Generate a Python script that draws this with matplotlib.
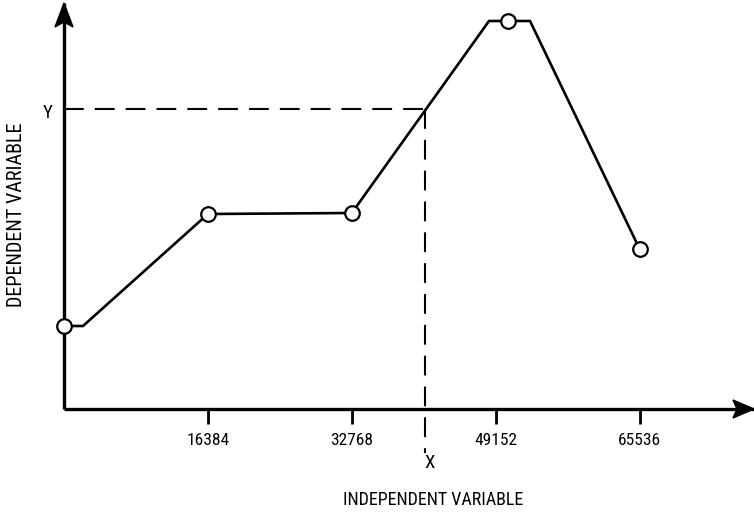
import matplotlib
matplotlib.use("Agg")
import matplotlib.pyplot as plt
from matplotlib.patches import Polygon
from matplotlib.transforms import IdentityTransform

# Piecewise curve vertices (independent, dependent)
curve_x = [0, 2163, 16384, 32768, 48390, 53060, 65536]
curve_y = [83, 83, 195, 196, 388, 388, 160]

# Sample points marked with open circles
point_x = [0, 16384, 32768, 50550, 65536]
point_y = [83, 195, 196, 388, 160]

# Axis ticks
tick_values = [16384, 32768, 49152, 65536]
tick_labels = ["16384", "32768", "49152", "65536"]

# Read-off example
x_read = 41100
y_read = 300

W, H = 754, 512
FONT = ["Roboto Condensed", "Archivo Narrow", "Liberation Sans", "DejaVu Sans"]
plt.rcParams["font.family"] = FONT

fig = plt.figure(figsize=(W / 100, H / 100), dpi=100)
ox, oy = 64, 409  # axis origin in image pixels (top-left origin)
ax = fig.add_axes([ox / W, (H - oy) / H, (W - ox) / W, (oy - 3) / H])
ax.set_xlim(0, (W - ox) * 16384 / 143.9)
ax.set_ylim(0, oy - 3)
for s in ax.spines.values():
    s.set_visible(False)

# axis lines
ax.plot([0, 1], [0, 0], transform=ax.transAxes, color="black", lw=2.4,
        solid_capstyle="butt", clip_on=False, zorder=3)
ax.plot([0, 0], [0, 1], transform=ax.transAxes, color="black", lw=2.4,
        solid_capstyle="butt", clip_on=False, zorder=3)

# arrow heads (display pixels, bottom-left origin)
yb = H - oy
xhead = Polygon([(W, yb), (W - 21, yb + 9), (W - 17, yb), (W - 21, yb - 9)],
                closed=True, color="black", transform=IdentityTransform())
yhead = Polygon([(ox, H - 3), (ox - 9, H - 27), (ox, H - 22), (ox + 9, H - 27)],
                closed=True, color="black", transform=IdentityTransform())
fig.patches.extend([xhead, yhead])

# ticks
ax.set_xticks(tick_values)
ax.set_xticklabels(tick_labels)
ax.tick_params(axis="x", direction="out", length=11, width=2, pad=6,
               labelsize=12.5, colors="black")
ax.set_yticks([])

# curve
ax.plot(curve_x, curve_y, color="black", lw=1.9, clip_on=False, zorder=4,
        solid_joinstyle="miter")
ax.plot(point_x, point_y, linestyle="none", marker="o", markersize=10.5,
        markerfacecolor="white", markeredgecolor="black", markeredgewidth=1.6,
        clip_on=False, zorder=5)

# dashed read-off guides
ax.plot([0, x_read], [y_read, y_read], color="black", lw=1.5,
        dashes=(9.5, 5.3), clip_on=False, zorder=2)
ax.plot([x_read, x_read], [y_read, -44], color="black", lw=1.5,
        dashes=(9.5, 5.3), clip_on=False, zorder=2)

# labels
def px(x, y):
    return x / W, 1 - y / H

fig.text(*px(48, 113), "Y", ha="center", va="center", fontsize=13.5)
fig.text(*px(430, 463), "X", ha="center", va="center", fontsize=13.5)
fig.text(*px(433, 500), "INDEPENDENT VARIABLE", ha="center", va="center",
         fontsize=13)
fig.text(*px(17, 215), "DEPENDENT VARIABLE", ha="center", va="center",
         fontsize=14.5, rotation=90)

fig.savefig("out.png", dpi=100, facecolor="white")
